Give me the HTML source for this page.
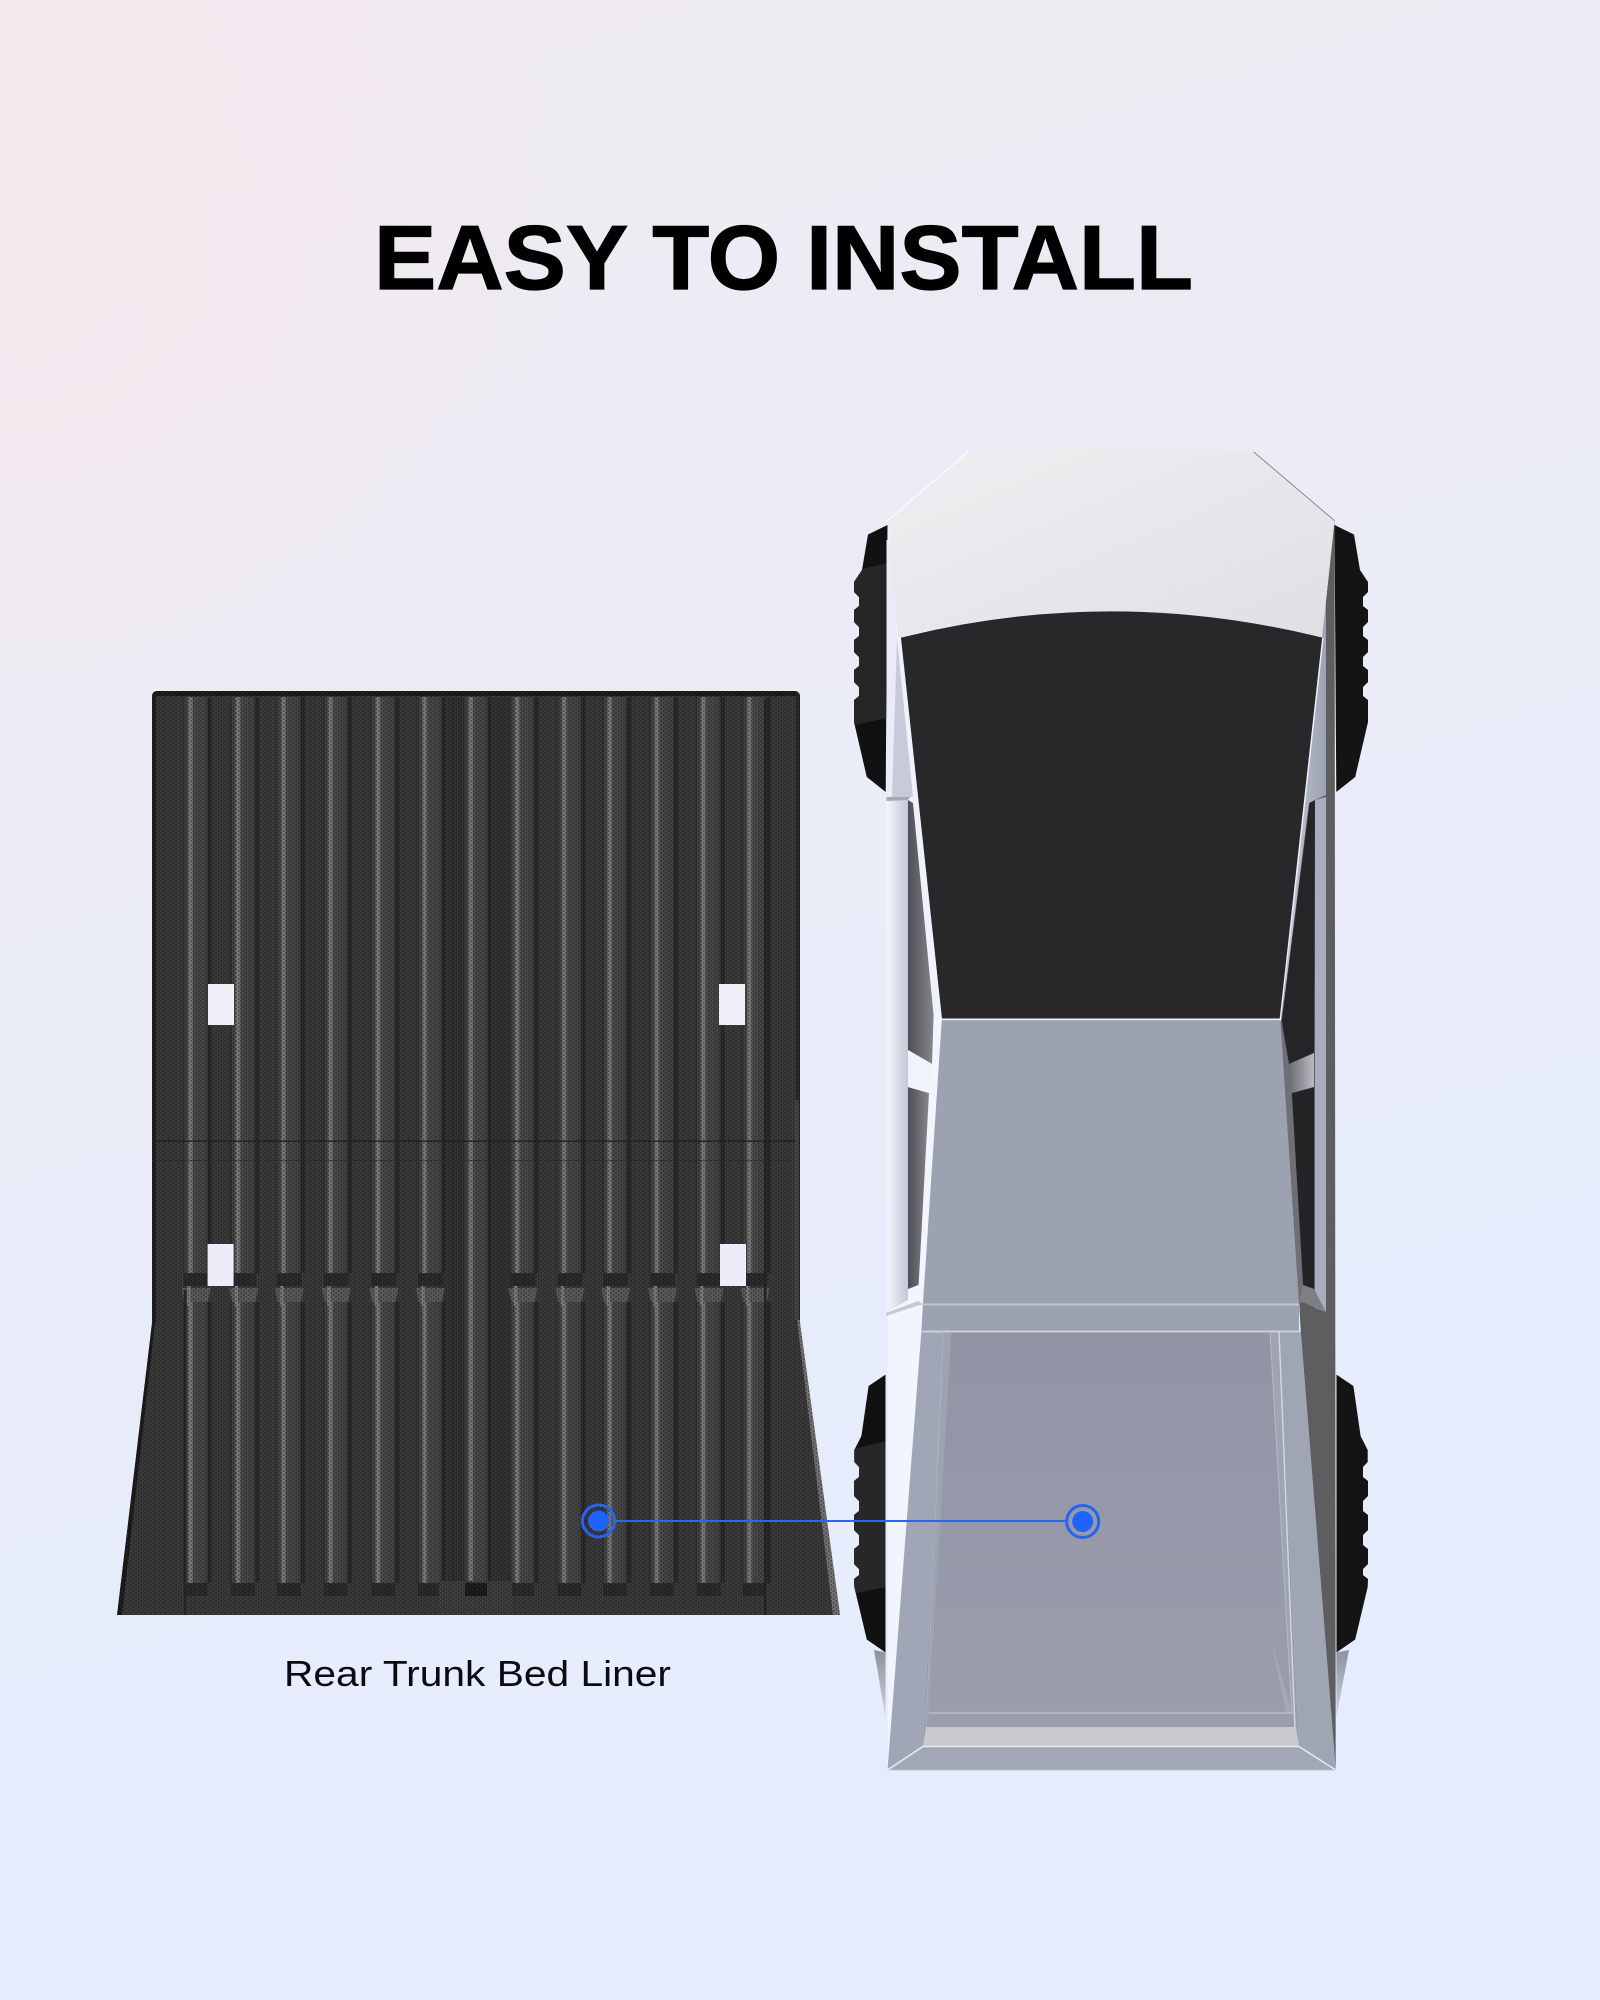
<!DOCTYPE html>
<html lang="en"><head><meta charset="utf-8"><title>Easy to Install</title>
<style>html,body{margin:0;padding:0;width:1600px;height:2000px;overflow:hidden}svg{display:block}</style></head>
<body>
<svg xmlns="http://www.w3.org/2000/svg" width="1600" height="2000" viewBox="0 0 1600 2000">
<defs>
<linearGradient id="bg" x1="0" y1="0" x2="0.25" y2="1"><stop offset="0" stop-color="#f1ebf1"/><stop offset=".3" stop-color="#ecebf4"/><stop offset=".6" stop-color="#e9ecf8"/><stop offset="1" stop-color="#e4edfe"/></linearGradient>
<radialGradient id="pink" gradientUnits="userSpaceOnUse" cx="30" cy="260" r="560"><stop offset="0" stop-color="#f9e6ea" stop-opacity=".6"/><stop offset="1" stop-color="#f9e6ea" stop-opacity="0"/></radialGradient>
<pattern id="tex" width="5" height="4" patternUnits="userSpaceOnUse"><circle cx="1.2" cy="1" r=".85" fill="#1e1e1e" opacity=".6"/><circle cx="3.7" cy="3" r=".85" fill="#1e1e1e" opacity=".6"/><circle cx="2.6" cy="1.4" r=".55" fill="#6a6a6a" opacity=".45"/><circle cx="0.1" cy="3.4" r=".55" fill="#6a6a6a" opacity=".45"/></pattern>
<linearGradient id="ribG" x1="0" y1="0" x2="1" y2="0">
  <stop offset="0" stop-color="#252525"/><stop offset=".08" stop-color="#3e3e3e"/><stop offset=".16" stop-color="#424242"/><stop offset=".22" stop-color="#7a7a7a"/><stop offset=".29" stop-color="#7a7a7a"/><stop offset=".36" stop-color="#474747"/><stop offset=".78" stop-color="#404040"/><stop offset=".86" stop-color="#232323"/><stop offset=".93" stop-color="#242424"/><stop offset="1" stop-color="#343434"/></linearGradient>
<linearGradient id="hood" x1="0" y1="0" x2="1" y2="1"><stop offset="0" stop-color="#efeff2"/><stop offset="1" stop-color="#e0e0e4"/></linearGradient>
<linearGradient id="win" x1="0" y1="0" x2="1" y2="0"><stop offset="0" stop-color="#4d4f55"/><stop offset="1" stop-color="#85878c"/></linearGradient>
<linearGradient id="sideL" x1="0" y1="0" x2="1" y2="0"><stop offset="0" stop-color="#f3f5fd"/><stop offset="1" stop-color="#c4c7d5"/></linearGradient>
<linearGradient id="sideR" x1="0" y1="0" x2="1" y2="0"><stop offset="0" stop-color="#c9ccd9"/><stop offset="1" stop-color="#9da2b2"/></linearGradient>
<linearGradient id="inner" x1="0" y1="0" x2="0" y2="1"><stop offset="0" stop-color="#9094a4"/><stop offset=".5" stop-color="#9599a9"/><stop offset="1" stop-color="#9a9eac"/></linearGradient>
<linearGradient id="fin" x1="0" y1="0" x2="0" y2="1"><stop offset="0" stop-color="#8f929c"/><stop offset="1" stop-color="#cdd2e0"/></linearGradient>
<linearGradient id="pil" x1="0" y1="0" x2="1" y2="0"><stop offset="0" stop-color="#6c6d70"/><stop offset="1" stop-color="#b9bbc4"/></linearGradient>
<clipPath id="linerClip"><path d="M158,691H794Q800,691 800,697V1323L840,1615H117L152,1323V697Q152,691 158,691Z"/></clipPath>
<polygon id="tyreF" points="887.5,525 868,534.5 862,570 854,582 854,592 859,597 859,606 854,610 854,622 859,627 859,636 854,640 854,652 859,657 859,666 854,670 854,682 859,687 859,696 854,700 854,722 866.8,777 885.7,792"/>
<polygon id="tyreR" points="885.5,1374.6 868.6,1386 861.4,1436 854.3,1450 854.3,1462 859,1467 859,1477 854,1481 854,1496 859,1501 859,1511 854,1515 854,1530 859,1535 859,1545 854,1549 854,1564 859,1569 859,1575 854,1579 854.3,1587 866.8,1639.5 885.5,1652.5"/>
<clipPath id="cF"><use href="#tyreF"/></clipPath>
<clipPath id="cR"><use href="#tyreR"/></clipPath>
<g id="rib">
  <rect x="-6" y="697" width="30" height="576" fill="url(#ribG)"/>
  <rect x="-5" y="1273" width="25" height="13" fill="#262626"/>
  <path d="M-7,1288H22L19,1302H-4Z" fill="#585858"/>
  <rect x="-6" y="1302" width="30" height="281" fill="url(#ribG)"/>
  <rect x="-1.5" y="1286" width="3.5" height="20" fill="#7a7a7a"/>
  <rect x="-5" y="1583" width="24" height="13" fill="#262626"/>
</g>
</defs>

<rect width="1600" height="2000" fill="url(#bg)"/>
<rect width="1600" height="900" fill="url(#pink)"/>

<!-- Title -->
<text x="374" y="289" font-family="'Liberation Sans',sans-serif" font-weight="700" font-size="91" textLength="819" lengthAdjust="spacingAndGlyphs" fill="#000" stroke="#000" stroke-width="1.2">EASY TO INSTALL</text>

<!-- Liner -->
<g clip-path="url(#linerClip)">
  <rect x="100" y="680" width="760" height="950" fill="#363636"/>
  <rect x="439" y="697" width="73" height="884" fill="#2e2e2e"/>
  <rect x="452" y="697" width="2" height="884" fill="#272727"/>
  <use href="#rib" x="188.7"/><use href="#rib" x="236.2"/><use href="#rib" x="281.8"/><use href="#rib" x="328.8"/><use href="#rib" x="376.3"/><use href="#rib" x="422.8"/>
  <rect x="463" y="697" width="30" height="884" fill="url(#ribG)"/>
  <use href="#rib" x="515.4"/><use href="#rib" x="562.4"/><use href="#rib" x="608"/><use href="#rib" x="655"/><use href="#rib" x="701.6"/><use href="#rib" x="747.6"/>
  <rect x="439" y="1581" width="73" height="34" fill="#3a3a3a"/>
  <rect x="465" y="1583" width="22" height="13" fill="#161616"/>
  <rect x="184" y="1290" width="2.5" height="325" fill="#242424"/>
  <rect x="764" y="700" width="2.5" height="915" fill="#222"/>
  <rect x="150" y="691" width="660" height="5" fill="#161616"/>
  <rect x="152" y="691" width="4" height="632" fill="#1a1a1a"/>
  <rect x="796" y="691" width="4" height="632" fill="#242424"/>
  <rect x="150" y="1140.5" width="660" height="1.4" fill="#1c1c1c"/>
  <rect x="150" y="1160" width="660" height="1.2" fill="#2a2a2a" opacity=".6"/>
  <path d="M152,1323L117,1615H122L155,1323Z" fill="#161616"/>
  <path d="M797,1320L833,1615H840L800,1320Z" fill="#8a8a8a" opacity=".7"/>
  <rect x="795" y="1100" width="4" height="220" fill="#666" opacity=".45"/>
  <rect x="100" y="680" width="760" height="950" fill="url(#tex)"/>
</g>
<rect x="208" y="984" width="26" height="41" fill="#f0eff7"/>
<rect x="719" y="984" width="26" height="41" fill="#f0eff7"/>
<rect x="207.6" y="1244" width="26" height="42" fill="#ecedf8"/>
<rect x="720" y="1244" width="26" height="42" fill="#ecedf8"/>

<!-- Label -->
<text x="284" y="1686" font-family="'Liberation Sans',sans-serif" font-size="36.5" textLength="387" lengthAdjust="spacingAndGlyphs" fill="#0a0a10">Rear Trunk Bed Liner</text>

<!-- Wheels -->
<use href="#tyreF" fill="#111"/>
<use href="#tyreR" fill="#111"/>
<g clip-path="url(#cF)"><polygon points="850,572 887,563 887,718 850,726" fill="#262626"/></g>
<g clip-path="url(#cR)"><polygon points="850,1450 886,1441 886,1587 850,1594" fill="#272727"/></g>
<use href="#tyreF" fill="#141414" transform="translate(2222,0) scale(-1,1)"/>
<use href="#tyreR" fill="#141414" transform="translate(2222,0) scale(-1,1)"/>
<!-- fins -->
<polygon points="874,1650 885.5,1652.5 885.5,1717" fill="url(#fin)"/>
<polygon points="1349,1650 1336.4,1652.5 1336.4,1717" fill="url(#fin)"/>

<!-- Body base -->
<polygon points="887.5,520 950,520 950,1332 921.4,1332 887.5,1770" fill="#f2f4fe"/>
<polygon points="886.5,640 908,640 908,1300 886.5,1312" fill="url(#sideL)"/>
<polygon points="890,540 897,638 901,640 913,797 908,800 886.5,797 886.5,540" fill="#e9ebf6"/>
<polygon points="897,640 901,640 913,797 892,797" fill="#c7cad8"/>
<polygon points="886.5,797 910,797 908,800 886.5,801" fill="#a5a8b3"/>
<polygon points="913,803 908,800 908,1050 932,1064 933.6,1015" fill="url(#win)"/>
<polygon points="908,1087 929,1093 918.6,1285 908,1289" fill="url(#win)"/>
<polygon points="908,1050 932,1064 929,1093 908,1087" fill="#f1f3fb"/>
<polygon points="886,1313 918,1301 923,1304 886,1316" fill="#c6c9d3"/>
<!-- Right side -->
<polygon points="1334.6,520 1335.7,1770 1300.7,1331 1299,1300 1281,1019 1322,638" fill="#5e5e60"/>
<polygon points="1322,638 1326,560 1326,795 1315,800 1309,803 1281.5,1020" fill="url(#sideR)"/>
<polygon points="1315,800 1326,797 1326,1312 1315,1308" fill="#a8adbc"/>
<polygon points="1309.6,803 1315,800 1314,1053 1289,1064 1281.8,1021" fill="#252528"/>
<polygon points="1291.8,1093 1314,1087 1314,1289 1303,1285" fill="#242427"/>
<polygon points="1289,1064 1314,1053 1314,1087 1291.8,1093" fill="url(#pil)"/>
<polygon points="1298,1285 1303,1285 1314,1289 1326,1312 1302,1302 1298.5,1303" fill="#7e7f84"/>
<polygon points="1281,1021 1289,1064 1291.8,1093 1303,1285 1299,1304 1295,1304 1280,1021" fill="#6f7074"/>

<!-- Hood -->
<path d="M967.9,451.8Q1110,441 1253.6,451.8L1334.6,520.7L1322,637.8Q1110,585 897.9,637.8L887.5,520.7Z" fill="url(#hood)"/>
<path d="M967.9,451.8L887.5,520.7" stroke="#fff" stroke-width="1"/>
<path d="M1253.6,451.8L1334.6,520.7" stroke="#70727a" stroke-width=".8"/>
<!-- Windshield -->
<path d="M900.7,637.8Q1110,585 1322.9,637.8L1280.4,1019H941.8Z" fill="#28282b"/>
<path d="M1322.9,637.8L1280.4,1019" stroke="#eef0f8" stroke-width="1.5" fill="none"/>
<polygon points="897,638 901,638 942,1019 935,1020 913,797" fill="#f0f2fb"/>
<!-- Bed cover -->
<polygon points="941.8,1020 1280.4,1020 1299,1304 1299,1331 921.4,1331 922.9,1304" fill="#9da2b0"/>
<rect x="941" y="1018.5" width="340" height="1.6" fill="#f2f2f6"/>
<rect x="922" y="1303.5" width="377" height="2" fill="#c3c6d1"/>
<!-- Tailgate -->
<polygon points="921.4,1331 943.6,1331 922.9,1746.5 887.5,1770" fill="#a1a6b6"/>
<polygon points="1279.3,1331 1300.7,1331 1335.7,1770 1299,1746.5" fill="#a0a5b4"/>
<polygon points="887.5,1770 1335.7,1770 1299,1746.5 922.9,1746.5" fill="#a3a8b6"/>
<polygon points="943.6,1331 1279.3,1331 1299,1746.5 922.9,1746.5" fill="url(#inner)"/>
<polygon points="926,1727 1296,1727 1299,1746.5 922.9,1746.5" fill="#c8c8cd"/>
<polygon points="1270,1332 1279,1332 1295,1727 1292,1713" fill="#a0a4b2"/>
<polygon points="943.6,1332 951.4,1332 929,1713 926,1727" fill="#9ea2b1"/>
<polygon points="1271,1640 1292,1713 1286,1712" fill="#a5a9b7"/>
<path d="M921.4,1331.5H1300.7" stroke="#d0d3dc" stroke-width="1.8"/>
<path d="M1279,1331L1295,1727" stroke="#d5d8e1" stroke-width="1.4" fill="none"/>
<path d="M1270,1332L1292,1713" stroke="#b5b9c5" stroke-width="1" fill="none"/>
<path d="M943.6,1331L926,1727" stroke="#b0b4c0" stroke-width=".8" fill="none"/>
<path d="M929,1713H1292" stroke="#b9bdc9" stroke-width="1.4"/>
<path d="M887.5,1770L922.9,1746.5H1299L1335.7,1770" stroke="#e8eaf2" stroke-width="1.6" fill="none"/>
<path d="M887.5,1770.4H1335.7" stroke="#d7dae4" stroke-width="1"/>

<!-- Markers -->
<line x1="616" y1="1521" x2="1066" y2="1521" stroke="#2b66f0" stroke-width="2"/>
<circle cx="598.6" cy="1521" r="16" fill="none" stroke="#2563f5" stroke-width="3"/>
<circle cx="598.6" cy="1521" r="10.5" fill="#1f63ff"/>
<circle cx="1082.7" cy="1521.5" r="16" fill="none" stroke="#2563f5" stroke-width="3"/>
<circle cx="1082.7" cy="1521.5" r="10.5" fill="#1f63ff"/>
</svg>
</body></html>
